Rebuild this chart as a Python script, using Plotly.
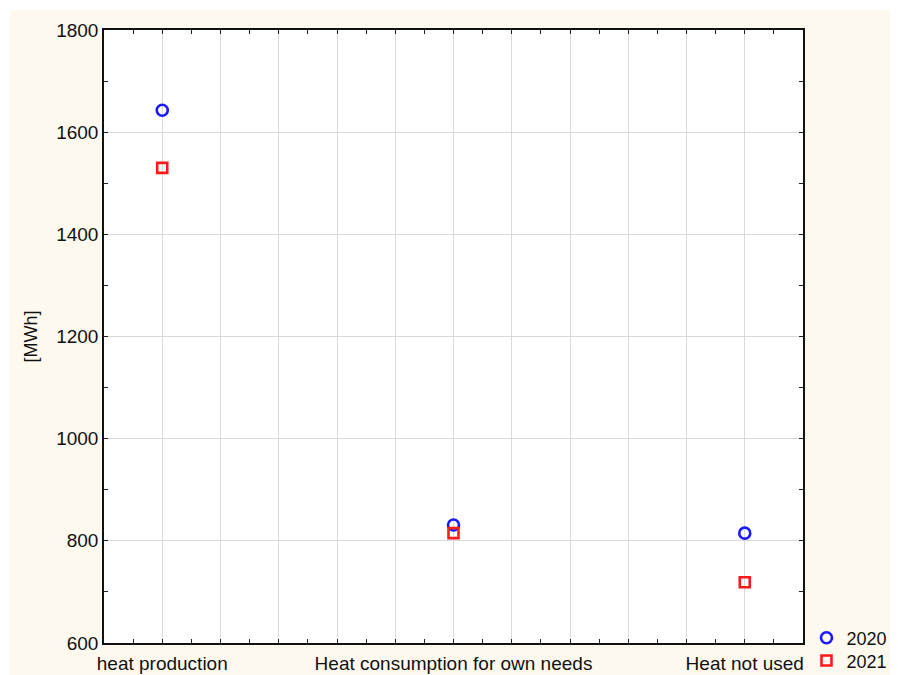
import numpy as np
import plotly.graph_objects as go

categories = ["heat production", "Heat consumption for own needs", "Heat not used"]
series_names = ["2020", "2021"]
values_2020 = [1643, 831, 815]
values_2021 = [1530, 815, 719]
y_tick_vals = [600, 800, 1000, 1200, 1400, 1600, 1800]

cat_pos = list(range(len(categories)))
grid_vals = [round(v, 1) for v in np.arange(-0.2, 2.21, 0.2)]
grid_text = []
for v in grid_vals:
    if abs(v - round(v)) < 1e-9 and 0 <= round(v) < len(categories):
        grid_text.append(categories[int(round(v))])
    else:
        grid_text.append("")

font_family = "Liberation Sans, Arial, sans-serif"

fig = go.Figure()
fig.add_trace(go.Scatter(
    x=cat_pos, y=values_2020, mode="markers", name=series_names[0], legend="legend",
    marker=dict(symbol="circle-open", size=11, color="#1a1aff", line=dict(width=2.6, color="#1a1aff")),
))
fig.add_trace(go.Scatter(
    x=cat_pos, y=values_2021, mode="markers", name=series_names[1], legend="legend2",
    marker=dict(symbol="square-open", size=10, color="#ff1a1a", line=dict(width=2.6, color="#ff1a1a")),
))

# page has an 8px body margin; the figure runs a little past the window edge
# (clipped) so that the outside legends never push the margins
EXTRA_R, EXTRA_B = 40, 30
L, T = 96, 22
PW, PH = 699, 613
R = 95 + EXTRA_R
B = 32 + EXTRA_B
W = L + PW + R
H = T + PH + B
x0 = (2 - L) / PW
x1 = (W + 5 - L) / PW
y1 = (PH + T - 2) / PH
y0 = -(B + 5) / PH
path = (f"M {x0} {y1} L {x1} {y1} L {x1} {y0} L {x0} {y0} Z "
        f"M 0 0 L 1 0 L 1 1 L 0 1 Z")

leg_common = dict(xanchor="left", yanchor="middle", bgcolor="rgba(0,0,0,0)",
                  font=dict(size=18), itemwidth=30)

fig.update_layout(
    width=W, height=H, autosize=False,
    margin=dict(l=L, r=R, t=T, b=B),
    paper_bgcolor="white",
    plot_bgcolor="white",
    font=dict(family=font_family, size=19, color="#111111"),
    showlegend=True,
    legend=dict(x=1.005, y=0.008, **leg_common),
    legend2=dict(x=1.005, y=-0.029, **leg_common),
    shapes=[dict(type="path", xref="paper", yref="paper", path=path,
                 fillcolor="#fef9ef", line=dict(width=0), layer="below")],
    xaxis=dict(
        range=[-0.2, 2.2], tickmode="array", tickvals=grid_vals, ticktext=grid_text,
        showgrid=True, gridcolor="#d9d9d9", gridwidth=1, automargin=False,
        ticks="inside", ticklen=4, tickcolor="#222", tickwidth=1,
        minor=dict(dtick=0.1, tick0=0, ticks="inside", ticklen=4, tickcolor="#222", showgrid=False),
        showline=True, linecolor="#111", linewidth=1.5, mirror="ticks",
        zeroline=False, tickfont=dict(size=19), ticklabelstandoff=2,
    ),
    yaxis=dict(
        range=[600, 1800], tickmode="array", tickvals=y_tick_vals,
        showgrid=True, gridcolor="#d9d9d9", gridwidth=1, automargin=False,
        ticks="inside", ticklen=4, tickcolor="#222", tickwidth=1,
        minor=dict(dtick=100, tick0=600, ticks="inside", ticklen=4, tickcolor="#222", showgrid=False),
        showline=True, linecolor="#111", linewidth=1.5, mirror="ticks",
        zeroline=False, tickfont=dict(size=19),
        title=dict(text="[MWh]", font=dict(size=18), standoff=14),
    ),
)

fig.write_html("out.html", config={"displayModeBar": False, "responsive": False},
               post_script="document.documentElement.style.overflow='hidden';")
